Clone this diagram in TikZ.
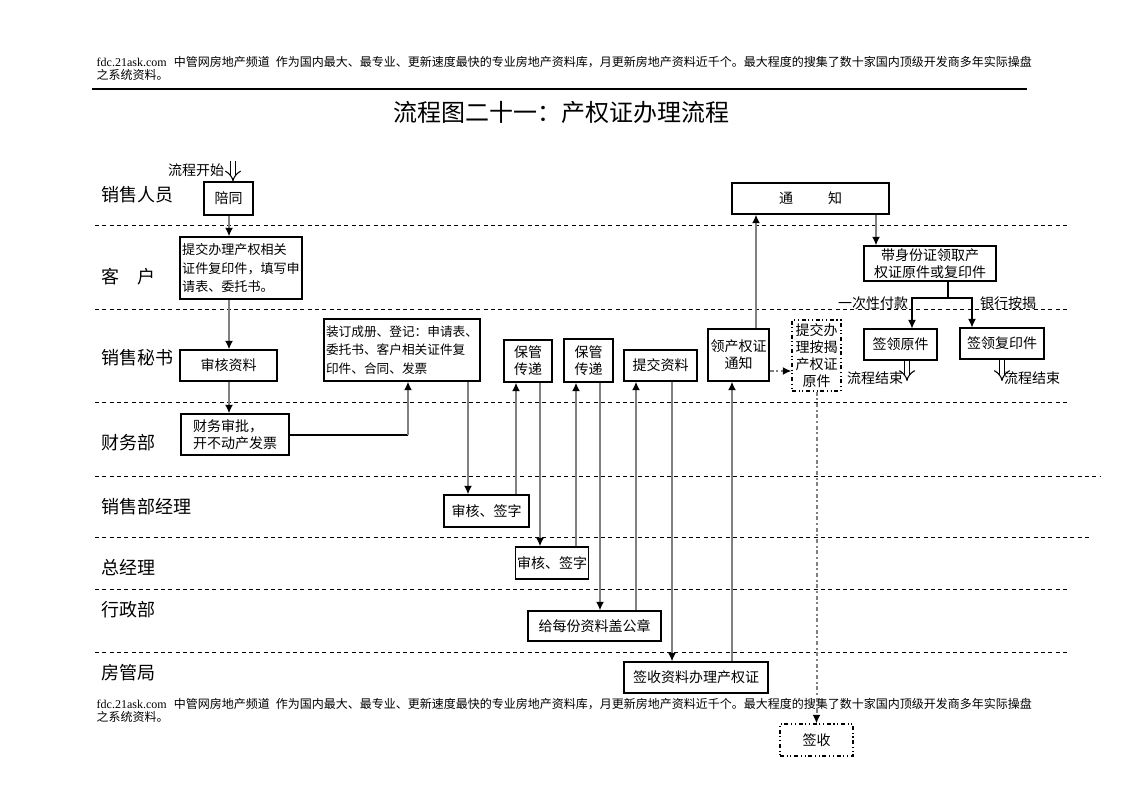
\documentclass[tikz,border=0pt]{standalone}
\usepackage{fontspec}
\setmainfont{Liberation Serif}
\newfontfamily\cjk{Noto Sans CJK SC}
\usetikzlibrary{arrows.meta,positioning}

\begin{document}
\begin{tikzpicture}[x=0.75pt,y=-0.75pt,
	procbox/.style={draw, line width=0.8pt, inner sep=1pt, align=center, font=\cjk\fontsize{10.5}{12.75}\selectfont},
	dashbox/.style={procbox, dash dot dot},
	flowarrow/.style={draw=gray, line width=1.5pt, -{Latex[color=black,length=6.5pt,width=6pt]}},
	dotarrow/.style={flowarrow, dash dot},
	plainline/.style={draw=black, line width=0.8pt},
	forkarrow/.style={plainline, -{Latex[length=6.5pt,width=6pt]}},
	hollowarrow/.style={draw=black, double, double distance=3.5pt, line width=0.8pt, -{Implies}},
	laneline/.style={draw=black, line width=0.75pt, dash pattern=on 3pt off 2.5pt},
	lanename/.style={anchor=west, font=\cjk\fontsize{13.5}{16}\selectfont},
	smalltext/.style={font=\cjk\fontsize{10.5}{12.75}\selectfont},
	headtext/.style={anchor=west, font=\cjk\fontsize{9}{11}\selectfont}]
	
	\useasboundingbox (0,0) rectangle (1122,793);
	
	% header, footer and title
	\node[headtext] (headA) at (92,62) {{\rmfamily fdc.21ask.com}\hspace{0.6em}中管网房地产频道\hspace{0.5em}作为国内最大、最专业、更新速度最快的专业房地产资料库，月更新房地产资料近千个。最大程度的搜集了数十家国内顶级开发商多年实际操盘};
	\node[headtext] (headB) at (92,75) {之系统资料。};
	\draw[line width=1pt] (92,89) -- (1027,89);
	\node[font=\cjk\fontsize{18}{20}\selectfont] (title) at (561,112) {流程图二十一：产权证办理流程};
	\node[headtext] (footA) at (92,704) {{\rmfamily fdc.21ask.com}\hspace{0.6em}中管网房地产频道\hspace{0.5em}作为国内最大、最专业、更新速度最快的专业房地产资料库，月更新房地产资料近千个。最大程度的搜集了数十家国内顶级开发商多年实际操盘};
	\node[headtext] (footB) at (92,717) {之系统资料。};
	
	% lanes
	\foreach \y/\xe in {225/1068,309/1068,402/1068,476/1100,537/1092,589/1068,652/1068}
		\draw[laneline] (95,\y) -- (\xe,\y);
	\foreach \y/\name in {195/销售人员,277/客　户,358/销售秘书,443/财务部,507/销售部经理,568/总经理,610/行政部,673/房管局}
		\node[lanename] (lane\y) at (97,\y) {\name};
	
	% boxes
	\node[procbox, minimum width=36.75pt, minimum height=24.75pt] (peitong) at (228.5,198.5) {陪同};
	\node[procbox, minimum width=91.5pt, minimum height=46.5pt, align=left, font=\cjk\fontsize{9.8}{14}\selectfont] (kehu) at (241,268) {提交办理产权相关\\证件复印件，填写申\\请表、委托书。};
	\node[procbox, minimum width=72.75pt, minimum height=23.25pt] (shenhe) at (228.5,365.5) {审核资料};
	\node[procbox, minimum width=81pt, minimum height=30.75pt, align=left] (caiwu) at (235,434.5) {财务审批，\\开不动产发票};
	\node[procbox, minimum width=117pt, minimum height=46.5pt, align=left, font=\cjk\fontsize{9.5}{14}\selectfont] (zhuangding) at (402,350) {装订成册、登记：申请表、\\委托书、客户相关证件复\\印件、合同、发票};
	\node[procbox, minimum width=63.75pt, minimum height=24pt] (qianzi1) at (486.5,511) {审核、签字};
	\node[procbox, minimum width=36pt, minimum height=31.5pt] (baoguan1) at (528,361) {保管\\传递};
	\node[procbox, minimum width=36.75pt, minimum height=32.25pt] (baoguan2) at (588.5,360.5) {保管\\传递};
	\node[procbox, minimum width=54pt, minimum height=24pt] (qianzi2) at (552,563) {审核、签字};
	\node[procbox, minimum width=99.75pt, minimum height=22.5pt] (gaizhang) at (594.5,626) {给每份资料盖公章};
	\node[procbox, minimum width=54.75pt, minimum height=23.25pt] (tijiao) at (660.5,365.5) {提交资料};
	\node[procbox, minimum width=108pt, minimum height=23.25pt] (qianshou) at (696,677.5) {签收资料办理产权证};
	\node[procbox, minimum width=45.75pt, minimum height=39pt] (lingzheng) at (738.5,355) {领产权证\\通知};
	\node[procbox, minimum width=117.75pt, minimum height=23.25pt] (tongzhi) at (810.5,198.5) {通\hspace{2.5em}知};
	\node[procbox, minimum width=99pt, minimum height=26.25pt] (daishen) at (930,263.5) {带身份证领取产\\权证原件或复印件};
	\node[procbox, minimum width=54.75pt, minimum height=23.25pt] (yuanjian) at (900.5,344.5) {签领原件};
	\node[procbox, minimum width=63pt, minimum height=23.25pt] (fuyin) at (1002,343.5) {签领复印件};
	\node[dashbox, minimum width=36.75pt, minimum height=53.25pt] (tijiaoaj) at (816.5,355.5) {提交办\\理按揭\\产权证\\原件};
	\node[dashbox, minimum width=54.75pt, minimum height=24pt] (qianshou2) at (816.5,740) {签收};
	
	% small labels
	\node[smalltext] (startlab) at (196,170) {流程开始};
	\node[smalltext] (payall) at (873,303) {一次性付款};
	\node[smalltext] (mortgage) at (1008,303) {银行按揭};
	\node[smalltext] (endlabA) at (875,378) {流程结束};
	\node[smalltext] (endlabB) at (1032,378) {流程结束};
	\coordinate (start) at (233,161);
	\coordinate (endA) at (907,381);
	\coordinate (endB) at (1002,381);
	\coordinate (bend) at (408,435);
	\coordinate (fork) at (948,298);
	
	% connectors
	\draw[hollowarrow] (start) -- (peitong.north -| start);
	\draw[flowarrow] (peitong.south -| 229,0) -- (kehu.north -| 229,0);
	\draw[flowarrow] (kehu.south -| 229,0) -- (shenhe.north -| 229,0);
	\draw[flowarrow] (shenhe.south -| 229,0) -- (caiwu.north -| 229,0);
	\draw[plainline] (caiwu.east |- bend) -- (bend);
	\draw[flowarrow] (bend) -- (zhuangding.south -| bend);
	\draw[flowarrow] (zhuangding.south -| 468,0) -- (qianzi1.north -| 468,0);
	\draw[flowarrow] (qianzi1.north -| 516,0) -- (baoguan1.south -| 516,0);
	\draw[flowarrow] (baoguan1.south -| 540,0) -- (qianzi2.north -| 540,0);
	\draw[flowarrow] (qianzi2.north -| 576,0) -- (baoguan2.south -| 576,0);
	\draw[flowarrow] (baoguan2.south -| 600,0) -- (gaizhang.north -| 600,0);
	\draw[flowarrow] (gaizhang.north -| 636,0) -- (tijiao.south -| 636,0);
	\draw[flowarrow] (tijiao.south -| 672,0) -- (qianshou.north -| 672,0);
	\draw[flowarrow] (qianshou.north -| 732,0) -- (lingzheng.south -| 732,0);
	\draw[flowarrow] (lingzheng.north -| 756,0) -- (tongzhi.south -| 756,0);
	\draw[flowarrow] (tongzhi.south -| 876,0) -- (daishen.north -| 876,0);
	\draw[plainline] (daishen.south -| fork) -- (fork);
	\draw[forkarrow] (fork) -| (yuanjian.north -| 912,0);
	\draw[forkarrow] (fork) -| (fuyin.north -| 972,0);
	\draw[dotarrow] (lingzheng.east |- 0,371) -- (tijiaoaj.west |- 0,371);
	\draw[dotarrow] (tijiaoaj.south) -- (qianshou2.north);
	\draw[hollowarrow] (yuanjian.south -| endA) -- (endA);
	\draw[hollowarrow] (fuyin.south -| endB) -- (endB);
	
\end{tikzpicture}
\end{document}
